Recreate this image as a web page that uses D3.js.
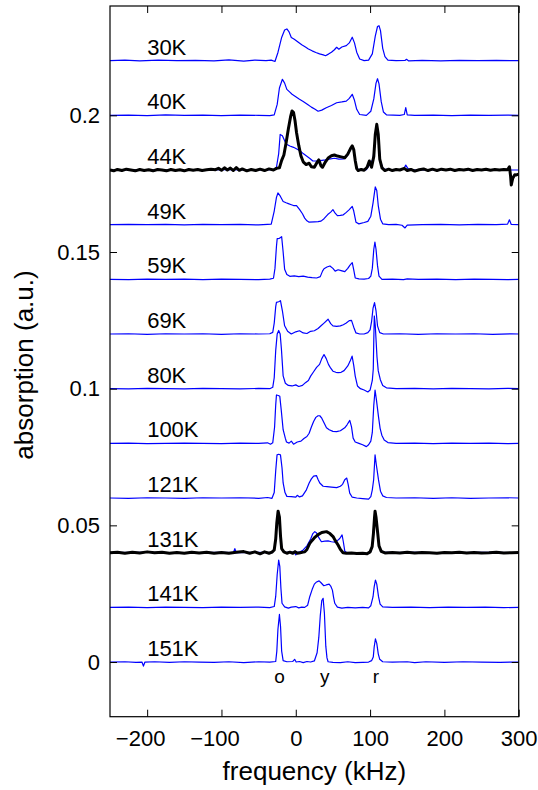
<!DOCTYPE html>
<html>
<head>
<meta charset="utf-8">
<script src="https://cdn.jsdelivr.net/npm/d3@7"></script>
<style>
  body { margin: 0; background: #fff; }
  text { font-family: "Liberation Sans", Arial, Helvetica, sans-serif; fill: #000; }
</style>
</head>
<body>
<svg></svg>
<script>
const width = 538;
const height = 790;
const margin = { top: 6, right: 19.3, bottom: 73.3, left: 110 };
const innerW = width - margin.left - margin.right;
const innerH = height - margin.top - margin.bottom;

// temperature labels and vertical offsets of each spectrum
const temps = ["30K", "40K", "44K", "49K", "59K", "69K", "80K", "100K", "121K", "131K", "141K", "151K"];
const offsets = [0.22, 0.20, 0.18, 0.16, 0.14, 0.12, 0.10, 0.08, 0.06, 0.04, 0.02, 0.00];
const xTicks = [-200, -100, 0, 100, 200, 300];
const yTicks = [0, 0.05, 0.1, 0.15, 0.2];
const peakNames = ["o", "y", "r"];
const peakFreqs = [-22, 39, 108];

// spectra: [frequency kHz, absorption above baseline]
const s30 = [[-250,0],[-230,0.0002],[-210,-0.0001],[-185,0.0002],[-160,0],[-135,0.0001],[-110,-0.0001],[-90,0.0003],[-70,-0.0002],[-55,0.0002],[-40,0],[-33,0.0002],[-28,-0.0003],[-24,0.003],[-19,0.0085],[-15,0.0112],[-12,0.0116],[-9,0.0105],[-6,0.0085],[-2,0.0078],[3,0.0068],[8,0.0058],[13,0.005],[17,0.0043],[22,0.0036],[27,0.003],[32,0.0025],[37,0.0021],[40,0.0018],[44,0.0024],[48,0.0031],[52,0.004],[55,0.0049],[58,0.0042],[62,0.005],[68,0.0055],[72,0.0065],[76,0.0086],[79,0.0065],[82,0.0031],[86,0.0006],[92,0],[98,0.0002],[103,0.0025],[107,0.009],[110,0.0125],[112,0.0128],[114,0.011],[117,0.0045],[120,0.0015],[124,0.0002],[135,0],[147,0.0001],[149,0.0005],[152,-0.0001],[170,0.0001],[195,-0.0001],[220,0.0001],[245,0],[270,0.0001],[300,0]];
const s40 = [[-250,0],[-225,0.0001],[-200,-0.0001],[-175,0.0002],[-150,0],[-125,0.0001],[-100,-0.0001],[-75,0.0001],[-50,0],[-35,-0.0001],[-29,0.0002],[-25,0.004],[-22,0.01],[-18,0.0132],[-15,0.0118],[-12,0.0095],[-8,0.0085],[-5,0.0077],[0,0.0068],[5,0.0059],[10,0.0051],[16,0.004],[21,0.003],[26,0.0022],[30,0.0015],[35,0.0019],[41,0.0028],[48,0.0036],[55,0.0046],[62,0.0049],[68,0.0052],[72,0.0062],[76,0.0077],[79,0.0055],[82,0.0022],[86,0.0003],[95,0],[101,0.0015],[105,0.006],[108,0.0118],[110,0.0134],[112,0.0115],[115,0.005],[118,0.0012],[122,0.0002],[140,0],[146,0.0003],[148,0.0028],[150,0.0002],[160,0],[185,0.0001],[210,-0.0001],[235,0.0001],[260,0],[285,0.0001],[300,0]];
const s44 = [[-250,0],[-245,-0.0003],[-240,0.0002],[-234,-0.0002],[-228,0.0003],[-222,0],[-216,-0.0003],[-210,0.0002],[-204,-0.0002],[-198,0.0001],[-192,-0.0003],[-186,0.0002],[-180,0],[-174,-0.0003],[-168,0.0002],[-162,-0.0002],[-156,0.0001],[-150,-0.0003],[-144,0.0002],[-138,-0.0001],[-132,0.0002],[-126,-0.0002],[-120,0.0001],[-114,0.0003],[-108,0.0001],[-104,0.0006],[-100,-0.0001],[-96,0.0008],[-92,0],[-88,0.0007],[-84,-0.0002],[-80,0.0009],[-76,-0.0001],[-72,0.0004],[-66,-0.0003],[-60,0.0002],[-54,-0.0002],[-48,0.0003],[-42,-0.0002],[-36,0.0004],[-30,0],[-26,0.0006],[-22,0.0008],[-19,0.0035],[-16,0.0055],[-13,0.01],[-10,0.015],[-7,0.0195],[-5,0.0216],[-3,0.021],[-1,0.018],[1,0.0137],[4,0.009],[7,0.0051],[10,0.003],[14,0.002],[18,0.0025],[21,0.0012],[25,0.001],[28,0.0025],[31,0.0037],[34,0.0015],[36,0.001],[40,0.003],[44,0.0045],[48,0.0052],[52,0.0055],[56,0.0051],[61,0.0048],[66,0.0045],[70,0.0058],[74,0.008],[76,0.0088],[78,0.0075],[80,0.0035],[82,0.0005],[84,-0.0002],[88,0.0002],[92,-0.0001],[96,0.001],[99,0.0033],[102,0.001],[105,0.005],[107,0.013],[109,0.0167],[111,0.013],[113,0.004],[116,0.0008],[120,-0.0002],[125,0.0003],[130,-0.0002],[135,0.0002],[140,0],[146,0.0006],[150,-0.0002],[155,0.0002],[160,-0.0004],[166,0.0001],[172,0.0004],[178,-0.0002],[184,0.0003],[190,-0.0002],[196,0.0003],[202,0],[208,0.0003],[214,-0.0002],[220,0.0002],[226,0],[232,0.0003],[238,-0.0002],[244,0.0002],[250,0],[256,0.0003],[262,-0.0001],[268,0.0002],[274,0],[280,0.0002],[285,0.0001],[287.5,0.0012],[289,-0.002],[290,-0.0055],[292,-0.003],[294.7,-0.0017],[297,-0.0018],[300,-0.0015]];
const s44blue = [[-250,0],[-200,0.0001],[-150,-0.0001],[-100,0.0001],[-50,0],[-30,0.0001],[-26,0.001],[-23,0.006],[-21,0.013],[-18,0.0125],[-13,0.0095],[-8,0.0088],[-3,0.0083],[2,0.0076],[6,0.007],[10,0.006],[14,0.0052],[19,0.0042],[23,0.0033],[28,0.0033],[33,0.0034],[40,0.0037],[45,0.004],[52,0.0043],[58,0.004],[65,0.0041],[70,0.0055],[74,0.0078],[76,0.0085],[78,0.007],[80,0.003],[83,0.0003],[95,0.0001],[104,0.004],[107,0.012],[109,0.0165],[111,0.012],[114,0.003],[118,0.0003],[140,0],[145,0.0003],[148,0.0018],[151,0.0005],[160,0],[200,0.0001],[250,0],[300,0]];
const s49 = [[-250,0],[-225,0.0001],[-200,0],[-175,0.0001],[-150,-0.0001],[-125,0.0001],[-100,0],[-75,0.0001],[-50,-0.0001],[-38,0.0001],[-33,0.0002],[-29,0.005],[-26,0.01],[-24,0.0116],[-21,0.0105],[-17,0.0085],[-13,0.008],[-10,0.0077],[-6,0.0073],[-3,0.007],[1,0.007],[5,0.0056],[9,0.004],[12,0.0024],[15,0.0014],[18,0.0009],[25,0.001],[30,0.0011],[34,0.0013],[38,0.0022],[43,0.0037],[47,0.0046],[50,0.0055],[53,0.0042],[56,0.0033],[60,0.0034],[64,0.0036],[68,0.0045],[72,0.0055],[76,0.0067],[78,0.005],[81,0.0009],[85,0.0003],[92,0.0008],[97,0.0012],[101,0.0031],[104,0.008],[107,0.0138],[109,0.0125],[111,0.007],[114,0.002],[117,0.0003],[125,0],[135,0.0001],[143,-0.0002],[147,-0.0012],[150,-0.0002],[170,0],[195,0.0001],[220,-0.0001],[245,0.0001],[270,0],[285,0.0002],[287.5,0.0018],[290,0.0001],[300,0]];
const s59 = [[-250,0],[-225,-0.0001],[-200,0.0001],[-175,0],[-150,0.0001],[-125,-0.0001],[-100,0.0001],[-75,0],[-50,-0.0001],[-35,0.0001],[-30,0.0004],[-28,0.004],[-26,0.012],[-25,0.0149],[-22,0.015],[-19,0.0156],[-17,0.01],[-15,0.0037],[-12,0.0018],[-8,0.0011],[-2,0.0013],[4,0.001],[10,0.0012],[16,0.0008],[22,0.0006],[28,0.0005],[33,0.001],[36,0.003],[38,0.0039],[42,0.0045],[46,0.0049],[50,0.004],[53,0.003],[57,0.0035],[61,0.0032],[66,0.0028],[70,0.004],[73,0.0052],[76,0.0061],[78,0.0035],[80,0.0005],[85,0.0002],[92,0.0001],[98,0.0003],[101,0.0012],[103,0.004],[105,0.011],[106.5,0.0136],[108,0.011],[110,0.005],[112,0.0012],[116,0],[130,0.0001],[145,-0.0001],[150,0.0002],[165,0],[190,0.0001],[215,-0.0001],[240,0.0001],[265,0],[285,-0.0001],[300,0]];
const s69 = [[-250,0],[-225,0.0001],[-200,-0.0001],[-175,0.0001],[-150,0],[-125,0.0001],[-100,-0.0001],[-75,0.0001],[-50,0],[-35,0.0001],[-31,0.0006],[-29,0.004],[-27,0.01],[-26,0.0116],[-23,0.0118],[-20.6,0.0122],[-18,0.0085],[-15,0.003],[-11,0.001],[-6,0],[0,0.0008],[5,0.0012],[10,0.0004],[15,0.0002],[20,0.001],[25,0.0012],[30,0.002],[34,0.003],[38,0.004],[43.5,0.0054],[47,0.0038],[50,0.003],[55,0.0028],[60,0.003],[64,0.0034],[68,0.004],[72,0.0049],[75,0.005],[78,0.0025],[81,0.0004],[86,0],[92,0],[97,0.0005],[100,0.0015],[102,0.0045],[104,0.0095],[106,0.0115],[108,0.0085],[110,0.003],[113,0.0005],[118,0],[140,0.0001],[165,-0.0001],[190,0.0001],[215,0],[240,0.0001],[265,-0.0001],[290,0.0001],[300,0]];
const s80 = [[-250,0],[-225,-0.0001],[-200,0.0001],[-175,0],[-150,-0.0001],[-125,0.0001],[-100,0],[-75,-0.0001],[-50,0.0001],[-35,0],[-31,0.0005],[-29,0.004],[-27,0.014],[-25,0.02],[-23,0.0213],[-21,0.02],[-19.3,0.0144],[-17,0.0047],[-14,0.002],[-10,0.0012],[-5,0.001],[0,0.0014],[4,0.0008],[9,0.0012],[13,0.0022],[17,0.003],[20,0.0046],[24,0.0062],[28,0.0078],[32,0.0089],[35,0.011],[38,0.0125],[41,0.011],[44,0.0089],[47,0.0075],[50,0.0064],[54,0.006],[57,0.0059],[61,0.006],[65,0.0066],[70,0.0083],[73,0.01],[75.8,0.0119],[78,0.0085],[80,0.0046],[83,0.001],[87,0],[92,-0.0005],[97,-0.0012],[100,-0.0005],[103,0.003],[104.3,0.0072],[105,0.018],[105.7,0.0266],[107,0.023],[109.3,0.0116],[111,0.0065],[113.8,0.0033],[117,0.0012],[122,0.0003],[135,0],[160,0.0001],[185,-0.0001],[210,0.0001],[235,0],[260,-0.0001],[285,0.0001],[300,0]];
const s100 = [[-250,0],[-225,0.0001],[-200,-0.0001],[-175,0],[-150,0.0001],[-125,0],[-100,-0.0001],[-75,0.0001],[-50,0],[-38,0.0002],[-34,-0.0003],[-31,0.0002],[-28.5,0.006],[-27,0.014],[-26,0.0177],[-23.5,0.0175],[-21.5,0.0172],[-19.5,0.012],[-17,0.005],[-14,0.0018],[-12.5,0.0005],[-9,0.0001],[-6,0.0008],[-3,-0.0003],[2,0.0005],[7,0.0008],[11,0.0018],[15,0.0025],[18,0.0037],[21,0.006],[24,0.008],[27,0.0095],[30,0.0101],[32.3,0.0101],[35,0.0092],[38,0.0075],[41.3,0.0057],[45,0.005],[50,0.0044],[55,0.0043],[60,0.0046],[65.9,0.0057],[69,0.0068],[72.7,0.0084],[75,0.006],[77.2,0.0019],[80,0.0005],[85,0],[90,-0.0005],[95,-0.0012],[98,-0.0005],[101,0.0008],[103,0.004],[105,0.014],[106.7,0.0195],[108.5,0.016],[111.3,0.0098],[113.5,0.0055],[115.8,0.003],[119,0.0012],[124,0.0003],[135,0],[160,0.0001],[185,-0.0001],[210,0.0001],[235,0],[260,0.0001],[285,-0.0001],[300,0]];
const s121 = [[-250,0],[-225,-0.0001],[-200,0.0001],[-175,0],[-150,-0.0001],[-125,0.0001],[-100,0],[-75,0.0001],[-50,-0.0001],[-38,0.0002],[-32,-0.0001],[-29,0.002],[-27,0.01],[-25.2,0.0158],[-23,0.016],[-20.6,0.0158],[-18.5,0.011],[-17,0.0055],[-14.5,0.002],[-12,0.0006],[-6,0.0005],[0,0.0003],[2,0.001],[5,0.0004],[9,0.0008],[14.3,0.003],[18,0.0055],[21,0.007],[24,0.008],[27.8,0.0082],[30,0.0068],[32.3,0.0055],[36.8,0.0043],[42,0.0042],[48,0.004],[55,0.0038],[60,0.0043],[63,0.005],[65.9,0.0067],[68.6,0.0073],[70.5,0.005],[72.6,0.0018],[76,0.0003],[82,0],[90,-0.0002],[98,-0.0004],[101,0.0005],[103,0.003],[104.8,0.0067],[106.7,0.0158],[108.5,0.012],[111.3,0.0067],[114,0.0025],[117,0.0008],[122,0.0002],[135,0],[160,0.0001],[185,-0.0001],[210,0.0001],[235,-0.0001],[260,0],[285,0.0001],[300,0]];
const s131 = [[-250,0],[-240,0.0002],[-230,-0.0002],[-220,0.0002],[-210,-0.0001],[-200,0.0003],[-190,0],[-180,0.0002],[-170,-0.0002],[-160,0.0001],[-150,-0.0002],[-140,0.0002],[-130,-0.0001],[-120,0.0002],[-110,-0.0002],[-100,0.0001],[-90,-0.0002],[-80,0.0002],[-70,0.0004],[-62,-0.0002],[-55,0.0003],[-48,-0.0004],[-42,0.0003],[-36,-0.0002],[-32,0.0002],[-29,0.001],[-27,0.005],[-25.5,0.011],[-23.8,0.0152],[-22,0.013],[-20.5,0.006],[-19,0.0015],[-16,0.0003],[-12,-0.0002],[-8,0.0002],[-4,-0.0002],[-1,0.0004],[2,-0.0002],[6,0],[10,0.0002],[12.1,0.0003],[15,0.0012],[18.8,0.0034],[22,0.0045],[26,0.0057],[30,0.0066],[35,0.0074],[41.3,0.0077],[46,0.007],[50.2,0.0059],[53,0.0045],[56.9,0.0028],[60,0.0012],[63.6,0],[68,-0.0002],[75,-0.0001],[82,-0.0003],[90,-0.0002],[96,-0.0004],[100,0.0003],[102.8,0.0022],[104.5,0.007],[106,0.013],[106.7,0.0152],[108,0.013],[110.3,0.0071],[112,0.0025],[115,0.0005],[120,-0.0001],[130,0.0001],[140,-0.0001],[150,0.0002],[160,-0.0001],[170,0.0001],[180,0],[190,-0.0002],[200,0.0001],[210,0],[220,0.0002],[230,-0.0001],[240,0.0001],[250,-0.0001],[260,0],[270,0.0002],[280,-0.0001],[290,0],[300,0.0001]];
const s131blue = [[-250,0],[-200,0.0001],[-150,-0.0001],[-100,0.0001],[-84,0],[-82,0.0015],[-80,0],[-50,0.0001],[-32,0],[-29,0.001],[-27,0.0055],[-25.5,0.0115],[-23.8,0.015],[-22,0.0128],[-20.5,0.0058],[-19,0.0012],[-15,0],[-8,0.0002],[-2,0.0001],[0,-0.0008],[2,0.0001],[6,0.0003],[10,0.001],[15,0.0025],[20,0.005],[23,0.007],[25.6,0.0077],[28,0.0072],[31,0.0055],[34.5,0.004],[39,0.0042],[43.5,0.0043],[48,0.004],[52.5,0.0039],[56,0.0044],[59.2,0.0052],[62.3,0.0065],[64,0.004],[66,0.0005],[70,-0.0002],[80,-0.0001],[90,-0.0002],[98,-0.0003],[101,0.0005],[103,0.0025],[105,0.01],[106.7,0.015],[108.3,0.0125],[110.3,0.0065],[113,0.0015],[117,0.0002],[130,0],[160,0.0001],[200,-0.0001],[250,0.0001],[300,0]];
const s141 = [[-250,0],[-225,0.0001],[-200,-0.0001],[-175,0.0001],[-150,0],[-125,-0.0001],[-100,0.0001],[-75,0],[-50,0.0001],[-35,-0.0001],[-29,0.0003],[-27,0.004],[-25,0.012],[-23,0.0173],[-21.5,0.015],[-20,0.007],[-18.5,0.0015],[-15,0.0002],[-10,-0.0003],[-6,0.0001],[0,0.0003],[4,-0.0002],[8,0.0001],[12,0],[16,0.0008],[18.8,0.0039],[22,0.0065],[25,0.0085],[28,0.0093],[31.4,0.0097],[34,0.009],[37.7,0.0079],[41,0.0082],[44.9,0.0085],[47,0.0078],[49.3,0.0063],[51,0.0035],[52.5,0.0015],[56,0.0001],[62,-0.0003],[70,0],[80,-0.0002],[90,0],[98,-0.0002],[101,0.0006],[104,0.0039],[105.5,0.0075],[107.2,0.01],[109,0.0085],[111.3,0.004],[113.5,0.0012],[117,0.0002],[130,0],[155,0.0001],[180,-0.0001],[205,0.0001],[230,0],[255,0.0001],[280,-0.0001],[300,0]];
const s151 = [[-250,0],[-230,0.0001],[-215,-0.0001],[-207,0],[-205,-0.0015],[-203,0],[-190,0.0001],[-170,-0.0001],[-150,0.0001],[-130,0],[-110,-0.0001],[-90,0.0001],[-70,-0.0002],[-50,0.0001],[-35,0],[-27,0.0002],[-25.5,0.004],[-24,0.012],[-22,0.0174],[-20.5,0.013],[-19,0.004],[-17,0.0005],[-12,0.0001],[-4,0.0002],[-1.5,0.001],[0.5,0],[5,0.0002],[10,-0.0002],[15,0.0002],[20,0],[25,0.0004],[28.7,0.0034],[31,0.009],[33,0.017],[35,0.0225],[36.8,0.0233],[38.5,0.018],[40.4,0.0058],[42,0.0015],[43.5,0.0001],[50,-0.0001],[60,-0.0002],[70,0.0001],[80,-0.0002],[90,-0.0001],[98,0],[102,0.0005],[104.3,0.0018],[105.5,0.0055],[107.2,0.0085],[109,0.0068],[111,0.003],[113,0.001],[117,0.0001],[130,0],[150,0.0001],[160,-0.0002],[175,0.0001],[200,-0.0001],[225,0.0001],[250,0],[275,-0.0001],[300,0]];

// blue traces (one per temperature) and the two highlighted black traces
const blueSpectra = [s30, s40, s44blue, s49, s59, s69, s80, s100, s121, s131blue, s141, s151];
const blackSpectra = [{ data: s44, offset: 0.18 }, { data: s131, offset: 0.04 }];

const svg = d3.select("svg")
    .attr("width", width)
    .attr("height", height);

const g = svg.append("g")
    .attr("transform", `translate(${margin.left},${margin.top})`);

const x = d3.scaleLinear().domain([-250, 300]).range([0, innerW]);
const y = d3.scaleLinear().domain([-0.02, 0.24]).range([innerH, 0]);

g.append("clipPath").attr("id", "plotclip")
    .append("rect").attr("width", innerW).attr("height", innerH);

const plot = g.append("g").attr("clip-path", "url(#plotclip)");

const line = off => d3.line()
    .x(d => x(d[0]))
    .y(d => y(d[1] + off));

blueSpectra.forEach((s, i) => {
    plot.append("path")
        .attr("d", line(offsets[i])(s))
        .style("fill", "none")
        .style("stroke", "#0000ff")
        .style("stroke-width", 1.2)
        .style("stroke-linejoin", "round");
});

blackSpectra.forEach(s => {
    plot.append("path")
        .attr("d", line(s.offset)(s.data))
        .style("fill", "none")
        .style("stroke", "#000")
        .style("stroke-width", 3)
        .style("stroke-linejoin", "round");
});

// temperature labels
g.selectAll(".temp")
    .data(temps)
    .enter()
    .append("text")
    .attr("class", "temp")
    .attr("x", x(-200))
    .attr("y", (d, i) => y(offsets[i]) - 6)
    .style("font-size", "22px")
    .text(d => d);

// peak names under the lowest spectrum
g.selectAll(".peak")
    .data(peakNames)
    .enter()
    .append("text")
    .attr("class", "peak")
    .attr("x", (d, i) => x(peakFreqs[i]))
    .attr("y", y(0) + 20.5)
    .attr("text-anchor", "middle")
    .style("font-size", "19px")
    .text(d => d);

// axes, ticks inward on all four sides
const fmtY = d => d === 0 ? "0" : d3.format("")(d);

const xAxis = g.append("g")
    .attr("transform", `translate(0,${innerH})`)
    .call(d3.axisBottom(x).tickValues(xTicks).tickSizeInner(-7).tickSizeOuter(0).tickPadding(14));
const xAxisTop = g.append("g")
    .call(d3.axisTop(x).tickValues(xTicks).tickSizeInner(-7).tickSizeOuter(0).tickFormat(""));
const yAxis = g.append("g")
    .call(d3.axisLeft(y).tickValues(yTicks).tickSizeInner(-7).tickSizeOuter(0).tickPadding(10).tickFormat(fmtY));
const yAxisRight = g.append("g")
    .attr("transform", `translate(${innerW},0)`)
    .call(d3.axisRight(y).tickValues(yTicks).tickSizeInner(-7).tickSizeOuter(0).tickFormat(""));

[xAxis, xAxisTop, yAxis, yAxisRight].forEach(a => {
    a.select(".domain").remove();
    a.selectAll("line").style("stroke", "#000").style("stroke-width", 1);
    a.selectAll("text")
        .style("font-size", "22px")
        .style("font-family", "'Liberation Sans', Arial, Helvetica, sans-serif")
        .style("fill", "#000");
});

// negative labels sit a little left, as in the original
xAxis.selectAll("text").attr("dx", d => d < 0 ? -7 : 0);

g.append("rect")
    .attr("width", innerW)
    .attr("height", innerH)
    .style("fill", "none")
    .style("stroke", "#000")
    .style("stroke-width", 1.2);

// axis titles
svg.append("text")
    .attr("x", margin.left + innerW / 2)
    .attr("y", 780)
    .attr("text-anchor", "middle")
    .style("font-size", "26px")
    .text("frequency (kHz)");

svg.append("text")
    .attr("transform", "translate(33,365) rotate(-90)")
    .attr("text-anchor", "middle")
    .style("font-size", "26px")
    .text("absorption (a.u.)");
</script>
</body>
</html>
